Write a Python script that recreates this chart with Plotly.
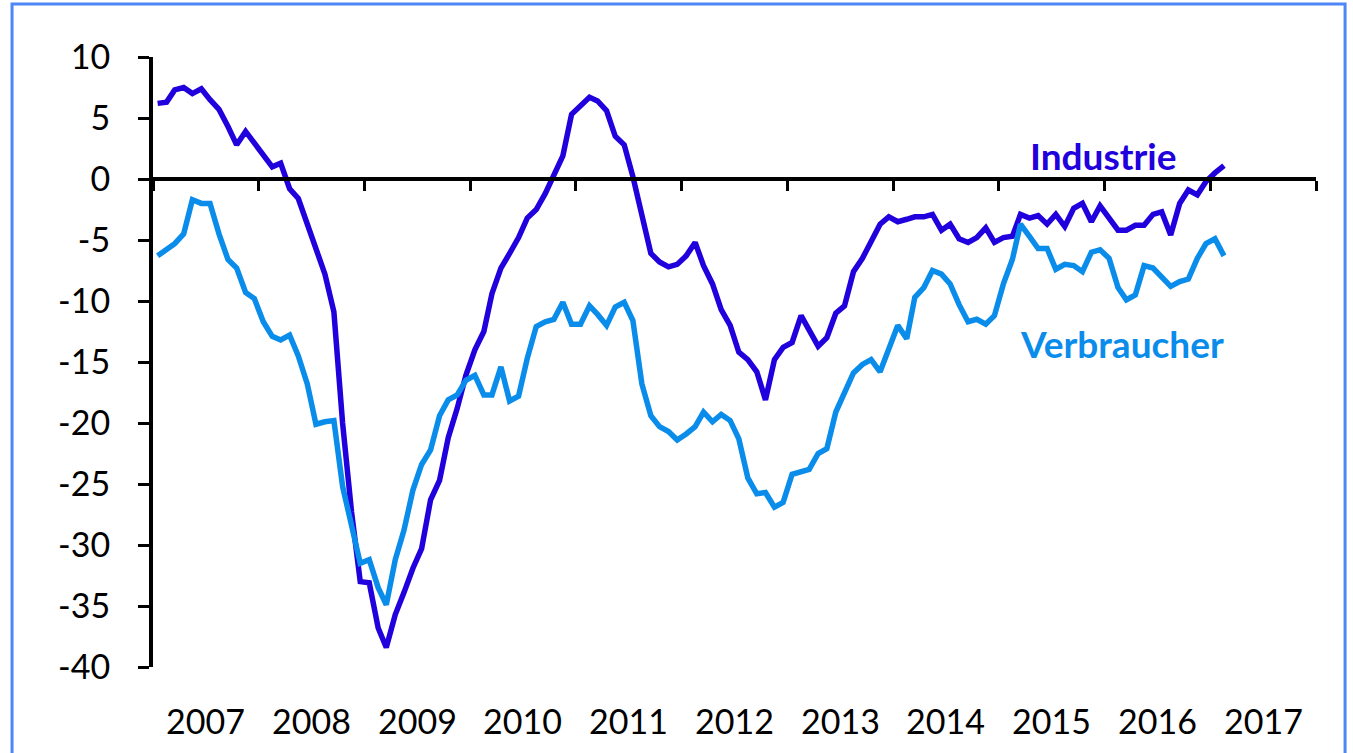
import pandas as pd
import plotly.graph_objects as go

# Monthly data, Jan 2007 - Feb 2017
industrie = [
    6.2, 6.3, 7.3, 7.5, 7.0, 7.4, 6.5, 5.7, 4.3, 2.8, 3.9, 2.9,
    2.0, 1.0, 1.3, -0.8, -1.6, -3.7, -5.8, -7.8, -10.9, -20.0, -27.3, -33.0,
    -33.1, -36.8, -38.4, -35.7, -33.9, -31.9, -30.3, -26.3, -24.7, -21.2, -18.8, -16.1,
    -14.0, -12.5, -9.4, -7.3, -6.1, -4.8, -3.2, -2.5, -1.2, 0.4, 1.9, 5.3,
    6.0, 6.7, 6.4, 5.6, 3.5, 2.8, 0.2, -3.0, -6.1, -6.8, -7.2, -7.0,
    -6.3, -5.2, -7.1, -8.6, -10.7, -12.0, -14.2, -14.8, -15.8, -18.1, -14.8, -13.8,
    -13.4, -11.2, -12.4, -13.7, -13.0, -11.0, -10.4, -7.6, -6.5, -5.2, -3.7, -3.1,
    -3.5, -3.3, -3.1, -3.1, -2.9, -4.2, -3.7, -4.9, -5.2, -4.8, -4.0, -5.2,
    -4.8, -4.7, -2.9, -3.2, -3.0, -3.7, -2.9, -3.9, -2.4, -2.0, -3.5, -2.2,
    -3.2, -4.2, -4.2, -3.8, -3.8, -2.9, -2.7, -4.6, -2.0, -0.9, -1.3, -0.2,
    0.5, 1.1,
]
verbraucher = [
    -6.3, -5.7, -5.3, -4.5, -1.7, -2.0, -2.0, -4.5, -6.6, -7.3, -9.3, -9.8,
    -11.7, -12.9, -13.2, -12.8, -14.5, -16.8, -20.1, -19.9, -19.8, -25.2, -28.3, -31.5,
    -31.2, -33.5, -34.9, -31.2, -28.8, -25.5, -23.4, -22.2, -19.4, -18.1, -17.7, -16.5,
    -16.1, -17.7, -17.7, -15.4, -18.2, -17.8, -14.7, -12.1, -11.7, -11.5, -10.1, -11.9,
    -11.9, -10.4, -11.1, -12.0, -10.5, -10.1, -11.6, -16.8, -19.4, -20.3, -20.7, -21.4,
    -20.9, -20.3, -19.1, -19.9, -19.3, -19.8, -21.3, -24.5, -25.8, -25.7, -26.9, -26.5,
    -24.2, -24.0, -23.8, -22.5, -22.1, -19.1, -17.6, -15.9, -15.2, -14.8, -15.8, -13.9,
    -12.0, -13.1, -9.7, -8.9, -7.5, -7.8, -8.6, -10.3, -11.7, -11.5, -11.9, -11.2,
    -8.6, -6.6, -3.7, -4.7, -5.7, -5.7, -7.4, -7.0, -7.1, -7.6, -6.0, -5.8,
    -6.5, -8.9, -9.9, -9.5, -7.1, -7.3, -8.0, -8.8, -8.4, -8.2, -6.5, -5.3,
    -4.9, -6.3,
]
years = list(range(2007, 2018))
y_ticks = [10, 5, 0, -5, -10, -15, -20, -25, -30, -35, -40]

months = pd.date_range("2007-01-01", periods=len(industrie), freq="MS")

C_IND = "#2000DC"
C_VER = "#0A8CEB"
FONT = "Lato"

fig = go.Figure()
fig.add_trace(go.Scatter(x=months, y=industrie, mode="lines", name="Industrie",
                         line=dict(color=C_IND, width=5.5), hoverinfo="skip"))
fig.add_trace(go.Scatter(x=months, y=verbraucher, mode="lines", name="Verbraucher",
                         line=dict(color=C_VER, width=5.5), hoverinfo="skip"))

boundaries = [f"{y-1}-12-16" for y in years] + [f"{years[-1]}-12-16"]

fig.update_layout(
    width=1353, height=753,
    margin=dict(l=153, r=37, t=57, b=86),
    paper_bgcolor="white", plot_bgcolor="white",
    showlegend=False,
    font=dict(family=FONT, color="black", size=34),
    xaxis=dict(
        type="date",
        range=[boundaries[0], boundaries[-1]],
        anchor="free", position=0.8,
        showline=True, linecolor="black", linewidth=4,
        ticks="outside", ticklen=10, tickwidth=3, tickcolor="black",
        tickvals=boundaries, showticklabels=False,
        showgrid=False, zeroline=False,
    ),
    yaxis=dict(
        range=[-40, 10],
        tickvals=y_ticks, ticktext=[str(v) for v in y_ticks],
        showline=True, linecolor="black", linewidth=4,
        ticks="outside", ticklen=11, tickwidth=3, tickcolor="black",
        ticklabelstandoff=21,
        tickfont=dict(family=FONT, size=34, color="black"),
        showgrid=False, zeroline=False,
    ),
)

for y in years:
    fig.add_annotation(x=f"{y}-06-16", y=-0.087, xref="x", yref="paper",
                       text=str(y), showarrow=False, xanchor="center", yanchor="middle",
                       font=dict(family=FONT, size=34, color="black"))

fig.add_annotation(x=0.817, y=0.839, xref="paper", yref="paper", text="<b>Industrie</b>",
                   showarrow=False, xanchor="center", yanchor="middle",
                   font=dict(family=FONT, size=37, color=C_IND))
fig.add_annotation(x=0.833, y=0.531, xref="paper", yref="paper", text="<b>Verbraucher</b>",
                   showarrow=False, xanchor="center", yanchor="middle",
                   font=dict(family=FONT, size=37, color=C_VER))

fig.add_shape(type="rect", xref="paper", yref="paper",
              x0=-0.1212, x1=1.025, y0=-0.3, y1=1.087,
              line=dict(color="#4F86F7", width=3), layer="below")

fig.write_html("out.html", config={"displayModeBar": False},
               post_script="document.body.style.margin='0';")
